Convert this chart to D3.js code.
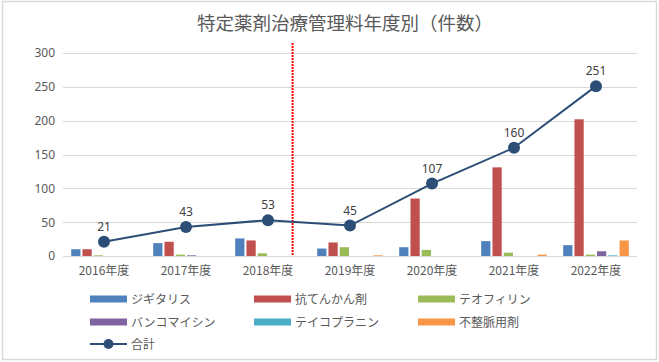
<!DOCTYPE html>
<html>
<head>
<meta charset="utf-8">
<script src="https://cdn.jsdelivr.net/npm/d3@7"></script>
<style>
  body { margin: 0; background: #fff; }
  svg { display: block; font-family: "Noto Sans CJK JP", "Noto Sans", sans-serif; }
</style>
</head>
<body>
<script>
// data
var years = ["2016年度", "2017年度", "2018年度", "2019年度", "2020年度", "2021年度", "2022年度"];
var seriesNames = ["ジギタリス", "抗てんかん剤", "テオフィリン", "バンコマイシン", "テイコプラニン", "不整脈用剤"];
var digitalis   = [10, 19, 26, 11, 13, 22, 16];
var antiepi     = [10, 21, 23, 20, 85, 131, 202];
var theophyll   = [1, 2, 4, 13, 9, 5, 2];
var vancomycin  = [0, 1, 0, 0, 0, 0, 7];
var teicoplanin = [0, 0, 0, 0, 0, 0, 1];
var antiarrhy   = [0, 0, 0, 1, 0, 2, 23];
var totals      = [21, 43, 53, 45, 107, 160, 251];
var yTicks      = [0, 50, 100, 150, 200, 250, 300];

var seriesValues = [digitalis, antiepi, theophyll, vancomycin, teicoplanin, antiarrhy];
var colors = ["#4f81bd", "#c0504d", "#9bbb59", "#8064a2", "#4bacc6", "#f79646"];

var width = 659,
    height = 362;

var svg = d3.select("body").append("svg")
    .attr("width", width)
    .attr("height", height);

// chart border
svg.append("rect")
    .attr("x", 2.5).attr("y", 1.5)
    .attr("width", 654).attr("height", 358)
    .attr("fill", "#fff")
    .attr("stroke", "#d9d9d9")
    .attr("stroke-width", 1.5);

svg.append("text")
    .attr("x", 345).attr("y", 30)
    .attr("text-anchor", "middle")
    .attr("font-size", 18.5)
    .attr("fill", "#595959")
    .text("特定薬剤治療管理料年度別（件数）");

var x0 = d3.scaleBand()
    .domain(years)
    .range([63, 637]);

var x1 = d3.scaleBand()
    .domain(seriesNames)
    .range([x0.bandwidth() * 0.1, x0.bandwidth() * 0.9])
    .paddingInner(0.18);

var y = d3.scaleLinear()
    .domain([0, 300])
    .range([256, 53]);

// gridlines
svg.append("g")
    .selectAll("line")
    .data(yTicks)
    .enter().append("line")
    .attr("x1", 63).attr("x2", 637)
    .attr("y1", function(d) { return Math.round(y(d)) + 0.5; })
    .attr("y2", function(d) { return Math.round(y(d)) + 0.5; })
    .attr("stroke", "#d9d9d9")
    .attr("stroke-width", 1);

var yAxis = svg.append("g")
    .attr("transform", "translate(63,0)")
    .call(d3.axisLeft(y).tickValues(yTicks).tickSize(0).tickPadding(8));
yAxis.select(".domain").remove();
yAxis.selectAll("text")
    .attr("font-size", 12)
    .attr("fill", "#595959")
    .style("font-family", "\"Noto Sans\", sans-serif");

var xAxis = svg.append("g")
    .attr("transform", "translate(0,256)")
    .call(d3.axisBottom(x0).tickSize(0).tickPadding(10));
xAxis.select(".domain").remove();
xAxis.selectAll("text")
    .attr("font-size", 12)
    .attr("fill", "#595959")
    .style("font-family", "\"Noto Sans CJK JP\", sans-serif");

// bars
var groups = svg.append("g")
    .selectAll("g")
    .data(years)
    .enter().append("g")
    .attr("transform", function(d) { return "translate(" + x0(d) + ",0)"; });

groups.selectAll("rect")
    .data(function(d, i) {
        return seriesNames.map(function(s, j) { return {s: s, v: seriesValues[j][i], c: colors[j]}; });
    })
    .enter().append("rect")
    .attr("x", function(d) { return x1(d.s); })
    .attr("y", function(d) { return y(d.v); })
    .attr("width", x1.bandwidth())
    .attr("height", function(d) { return y(0) - y(d.v); })
    .attr("fill", function(d) { return d.c; });

// red dotted divider after 2018
var divX = x0("2018年度") + x0.bandwidth() * 0.8;
svg.append("line")
    .attr("x1", divX).attr("x2", divX)
    .attr("y1", 43).attr("y2", 256)
    .attr("stroke", "#ff0000")
    .attr("stroke-width", 2)
    .attr("stroke-dasharray", "2,1");

// total line
var cx = function(d, i) { return x0(years[i]) + x0.bandwidth() / 2; };
var line = d3.line()
    .x(function(d, i) { return cx(d, i); })
    .y(function(d) { return y(d); });

svg.append("path")
    .datum(totals)
    .attr("fill", "none")
    .attr("stroke", "#2c4d75")
    .attr("stroke-width", 2)
    .attr("d", line);

svg.append("g")
    .selectAll("circle")
    .data(totals)
    .enter().append("circle")
    .attr("cx", cx)
    .attr("cy", function(d) { return y(d); })
    .attr("r", 6)
    .attr("fill", "#2c4d75");

svg.append("g")
    .selectAll("text")
    .data(totals)
    .enter().append("text")
    .attr("x", cx)
    .attr("y", function(d) { return y(d) - 11; })
    .attr("text-anchor", "middle")
    .attr("font-size", 12)
    .attr("fill", "#404040")
    .style("font-family", "\"Noto Sans\", sans-serif")
    .text(function(d) { return d; });

// legend
var legend = svg.append("g");
var colX = [90, 254, 418];
var rowY = [299, 322, 344];

seriesNames.forEach(function(s, i) {
    var lx = colX[i % 3], ly = rowY[Math.floor(i / 3)];
    legend.append("rect")
        .attr("x", lx).attr("y", ly - 3.5)
        .attr("width", 37).attr("height", 7)
        .attr("fill", colors[i]);
    legend.append("text")
        .attr("x", lx + 41).attr("y", ly + 4.5)
        .attr("font-size", 12)
        .attr("fill", "#595959")
        .text(s);
});

legend.append("line")
    .attr("x1", colX[0]).attr("x2", colX[0] + 37)
    .attr("y1", rowY[2]).attr("y2", rowY[2])
    .attr("stroke", "#2c4d75")
    .attr("stroke-width", 2);
legend.append("circle")
    .attr("cx", colX[0] + 18.5).attr("cy", rowY[2])
    .attr("r", 5)
    .attr("fill", "#2c4d75");
legend.append("text")
    .attr("x", colX[0] + 41).attr("y", rowY[2] + 4.5)
    .attr("font-size", 12)
    .attr("fill", "#595959")
    .text("合計");
</script>
</body>
</html>
